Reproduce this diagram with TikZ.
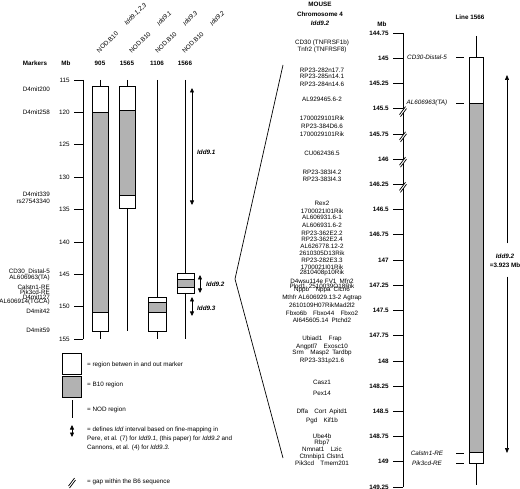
\documentclass[tikz,border=0pt]{standalone}
\usepackage{fontspec}
\setmainfont{Liberation Sans}
\usetikzlibrary{arrows.meta, positioning}
\newcommand{\gfont}{\fontsize{6.3}{7}\selectfont}

\begin{document}
\begin{tikzpicture}[
  x=1pt, y=-1pt,
  txt/.style = {inner sep=0pt, font=\gfont},
  hd/.style = {inner sep=0pt, font=\gfont\bfseries},
  ital/.style = {inner sep=0pt, font=\gfont\itshape},
  hdit/.style = {inner sep=0pt, font=\gfont\bfseries\itshape},
  ln/.style = {line width=0.7pt},
  inout/.style = {ln, draw, fill=white},
  b10/.style = {ln, draw, fill=gray!60},
  tip/.style = {ln, -{Triangle[length=5pt, width=4pt]}},
  iddarr/.style = {ln, {Triangle[length=4.5pt, width=4pt]}-{Triangle[length=4.5pt, width=4pt]}},
  gapmark/.pic = {
    \fill[white] (-3.5,3) -- (2.5,-5) -- (3.5,-3) -- (-2.5,5) -- cycle;
    \draw[ln] (-3.5,3) -- (2.5,-5);
    \draw[ln] (-2.5,5) -- (3.5,-3);
  }
]
\useasboundingbox (0,0) rectangle (520,489);

% ---- left panel: headers
\node[hd] (hmark) at (35,63) {Markers};
\node[hd] (hmb) at (66,63) {Mb};
\foreach \xx/\sx/\ln/\id [count=\k] in {100/100/905/{9.1,2,3}, 127/132/1565/9.1,
    157/158/1106/9.3, 185/185/1566/9.2} {
  \node[hd] (line\k) at (\xx,63) {\ln};
  \node[txt, rotate=45, anchor=south west] (strain\k) at (\sx,54)
    {NOD.B10\hspace{12pt}\textit{Idd\id}};
}

% ---- left Mb axis
\draw[ln] (83,80) -- (83,339);
\foreach \m [count=\i from 0] in {115,120,...,155}
  \draw[ln] (83,{80+\i*32.4}) -- ++(-9,0) node[txt, anchor=east, xshift=-4pt] (lt\i) {\m};

% ---- markers
\foreach \yy/\t [count=\k] in {89/D4mit200, 112/D4mit258, 194/D4mit339, 201/rs27543340,
    272/CD30\_Distal-5, 278/{AL606963(TA)}, 287/Calstn1-RE, 292/Pik3cd-RE,
    297/D4mit127, 302/{AL606914(TGCA)}, 311/D4mit42, 330/D4mit59}
  \node[txt, anchor=east] (mk\k) at (50,\yy) {\t};

% ---- line 905
\draw[ln] (100,80) -- (100,86);
\draw[inout] (92,86) rectangle (108,112);
\draw[b10] (92,112) rectangle (108,312);
\draw[inout] (92,312) rectangle (108,331);
\draw[ln] (100,331) -- (100,339);
% ---- line 1565
\draw[ln] (127,80) -- (127,86);
\draw[inout] (119,86) rectangle (135,110);
\draw[b10] (119,110) rectangle (135,195);
\draw[inout] (119,195) rectangle (135,208);
\draw[ln] (127,208) -- (127,331);
% ---- line 1106
\draw[ln] (157,80) -- (157,297);
\draw[inout] (148,297) rectangle (166,302);
\draw[b10] (148,302) rectangle (166,312);
\draw[inout] (148,312) rectangle (166,331);
\draw[ln] (157,331) -- (157,339);
% ---- line 1566
\draw[ln] (185,80) -- (185,273);
\draw[inout] (177,273) rectangle (194,279);
\draw[b10] (177,279) rectangle (194,287);
\draw[inout] (177,287) rectangle (194,293);
\draw[ln] (185,293) -- (185,339);

% ---- Idd intervals
\coordinate (i1a) at (192,88);  \coordinate (i1b) at (192,205);
\coordinate (i2a) at (200,275); \coordinate (i2b) at (200,293);
\coordinate (i3a) at (192,297); \coordinate (i3b) at (192,316);
\draw[iddarr] (i1a) -- (i1b);
\draw[iddarr] (i2a) -- (i2b);
\draw[iddarr] (i3a) -- (i3b);
\node[hdit, anchor=west] (idd1) at (197,152) {Idd9.1};
\node[hdit, anchor=west] (idd2) at (206,284) {Idd9.2};
\node[hdit, anchor=west] (idd3) at (197,308) {Idd9.3};

% ---- legend
\draw[inout] (62,353) rectangle (81,374);
\draw[b10] (62,376) rectangle (81,397);
\draw[ln] (72,400) -- (72,418);
\draw[iddarr] (72,425) -- (72,437);
\pic at (72,483) {gapmark};
\node[txt, anchor=west] (lg1) at (87,365) {= region betwen in and out marker};
\node[txt, anchor=west] (lg2) at (87,385) {= B10 region};
\node[txt, anchor=west] (lg3) at (87,410) {= NOD region};
\node[txt, anchor=west, align=left, font=\fontsize{6.3}{9}\selectfont] (lg4) at (87,439)
  {= defines \textit{Idd} interval based on fine-mapping in\\
   Pere, et al. (7) for \textit{Idd9.1}, (this paper) for \textit{Idd9.2} and\\
   Cannons, et al. (4) for \textit{Idd9.3}.};
\node[txt, anchor=west] (lg5) at (87,482) {= gap within the B6 sequence};

% ---- zoom lines
\coordinate (zt) at (283,65);
\coordinate (zm) at (235,279);
\coordinate (zb) at (283,458);
\draw[ln] (zt) -- (zm) -- (zb);

% ---- right panel: title and genes
\node[hd] (mouse) at (320,4) {MOUSE};
\node[hd] (chrom) at (320,14) {Chromosome 4};
\node[hdit] (region) at (320,23) {Idd9.2};
\foreach \yy/\t [count=\k] in {43/{CD30 (TNFRSF1b)}, 50/{Tnfr2 (TNFRSF8)},
    70/RP23-282n17.7, 76/RP23-285n14.1, 84/RP23-284n14.6, 99/AL929465.6-2,
    118/1700029101Rik, 126/RP23-384D6.6, 134/1700029101Rik, 153/CU062436.5,
    172/RP23-383I4.2, 179/RP23-383I4.3, 203/Rex2, 211/1700021I01Rik,
    217/AL606931.6-1, 225/AL606931.6-2, 233/RP23-362E2.2, 239/RP23-362E2.4,
    246/AL626778.12-2, 253/2610305D13Rik, 260/RP23-282E3.3, 267/1700021I01Rik,
    273/2810408p10Rik, 281/{D4wsu114e FV1\enspace Mfn2}, 286/{Plod1\enspace 2510039O18Rik},
    290/{Nppb\quad Nppa\enspace Clcn6}, 298/{Mthfr AL606929.13-2 Agtrap},
    305/2610109H07RikMad2l2, 313/{Fbxo6b\quad Fbxo44\quad Fbxo2},
    320/{AI645605.14\enspace Ptchd2}, 339/{Ubiad1\quad Frap}, 347/{Angptl7\quad Exosc10},
    353/{Srm\quad Masp2\enspace Tardbp}, 361/RP23-331p21.6, 382/Casz1, 393/Pex14,
    412/{Dffa\quad Cort\enspace Apitd1}, 421/{Pgd\quad Kif1b}, 436/Ube4b, 443/Rbp7,
    449/{Nmnat1\quad Lzic}, 457/{Ctnnbip1 Clstn1}, 463/{Pik3cd\quad Tmem201}}
  \node[txt] (gn\k) at (322,\yy) {\t};

% ---- right Mb axis
\node[hd] (rmb) at (382,24) {Mb};
\draw[ln] (403,33) -- (403,487);
\foreach \m [count=\i from 0] in {144.75,145,145.25,145.5,145.75,146,146.25,146.5,146.75,
    147,147.25,147.5,147.75,148,148.25,148.5,148.75,149,149.25}
  \draw[ln] (403,{33+\i*25.22}) -- ++(-10,0) node[hd, anchor=east, xshift=-4pt] (rt\i) {\m};
\foreach \i in {3,...,6}
  \pic at (403,{36+\i*25.22}) {gapmark};

% ---- line 1566 detail
\node[hd] (rline) at (470,17) {Line 1566};
\draw[ln] (476,36) -- (476,57);
\draw[inout] (469,57) rectangle (483,103);
\draw[b10] (469,103) rectangle (483,452);
\draw[inout] (469,452) rectangle (483,463);
\draw[ln] (476,463) -- (476,485);
\foreach \yy/\t [count=\k] in {57/CD30-Distal-5, 103/{AL606963(TA)}, 453/Calstn1-RE, 463/Pik3cd-RE} {
  \node[ital] (rm\k) at (427,\yy) {\t};
  \draw[ln] (456,\yy) -- ++(8,0);
}

% ---- Idd9.2 length
\node[hdit] (ridd) at (505,256) {Idd9.2};
\node[hd] (rlen) at (505,265) {=3.923 Mb};
\coordinate (ra) at (507,75);
\coordinate (rb) at (507,453);
\draw[tip] (ridd.north -| ra) ++(0,-10) -- (ra);
\draw[tip] (rlen.south -| rb) ++(0,9) -- (rb);
\end{tikzpicture}
\end{document}
